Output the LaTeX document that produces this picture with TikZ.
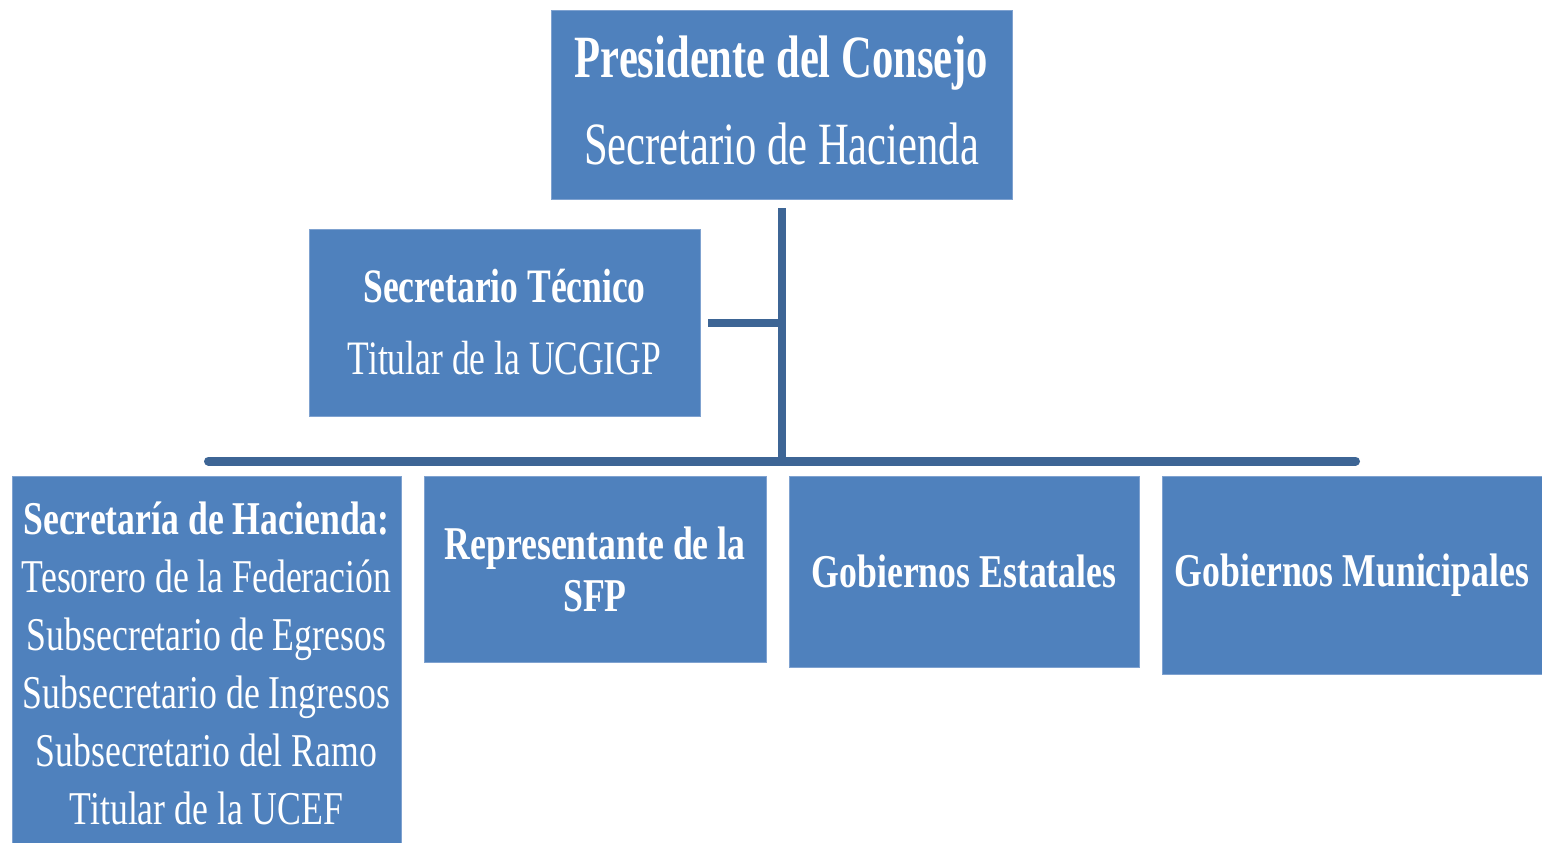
\documentclass[tikz,border=0pt]{standalone}
\usepackage{fontspec}
\setmainfont{Liberation Serif}
\newfontfamily\fa{Liberation Serif}[FakeStretch=0.71]
\newfontfamily\fb{Liberation Serif}[FakeStretch=0.74]
\newfontfamily\fc{Liberation Serif}[FakeStretch=0.76]
\usetikzlibrary{calc}
\definecolor{boxblue}{HTML}{4F81BD}
\definecolor{boxedge}{HTML}{7FA2D0}
\definecolor{lineblue}{HTML}{3D6595}
\begin{document}
\begin{tikzpicture}[x=1pt,y=-1pt,
  box/.style={fill=boxblue, draw=boxedge, line width=0.8pt, text=white, align=center, inner sep=0pt},
  conn/.style={draw=lineblue, line width=8pt}]
\useasboundingbox (0,0) rectangle (1542,843);
\fill[white] (0,0) rectangle (1542,843);

\node[box, minimum width=461pt, minimum height=189pt, text depth=8pt, font=\fa\fontsize{60}{87}\selectfont] (pres) at (781.5,104.5)
  {\textbf{Presidente del Consejo}\\Secretario de Hacienda};
\node[box, minimum width=391pt, minimum height=187pt, font=\fb\fontsize{48}{72}\selectfont] (st) at (504.5,322.5)
  {\textbf{Secretario Técnico}\\Titular de la UCGIGP};
\node[box, minimum width=389pt, minimum height=374pt, font=\fc\fontsize{47}{58}\selectfont] (shcp) at (206.5,663)
  {\textbf{Secretaría de Hacienda:}\\Tesorero de la Federación\\Subsecretario de Egresos\\Subsecretario de Ingresos\\Subsecretario del Ramo\\Titular de la UCEF};
\node[box, minimum width=342pt, minimum height=186pt, font=\fc\bfseries\fontsize{47}{52}\selectfont] (sfp) at (595,569)
  {Representante de la\\SFP};
\node[box, minimum width=350pt, minimum height=191pt, font=\fc\bfseries\fontsize{47}{52}\selectfont] (est) at (964,571.5)
  {Gobiernos Estatales};
\node[box, minimum width=380pt, minimum height=198pt, font=\fc\bfseries\fontsize{47}{52}\selectfont] (mun) at (1352,575)
  {Gobiernos Municipales};

\coordinate (jtop) at (782,208);
\coordinate (jbar) at (782,461);
\coordinate (stub) at (782,323);
\coordinate (barL) at (208.5,461);
\coordinate (barR) at (1355.5,461);

\draw[conn] (jtop) -- (jbar);
\draw[conn] ([xshift=8pt]st.east |- stub) -- (stub);
\draw[conn, line width=9pt, line cap=round] (barL) -- (barR);
\end{tikzpicture}
\end{document}
